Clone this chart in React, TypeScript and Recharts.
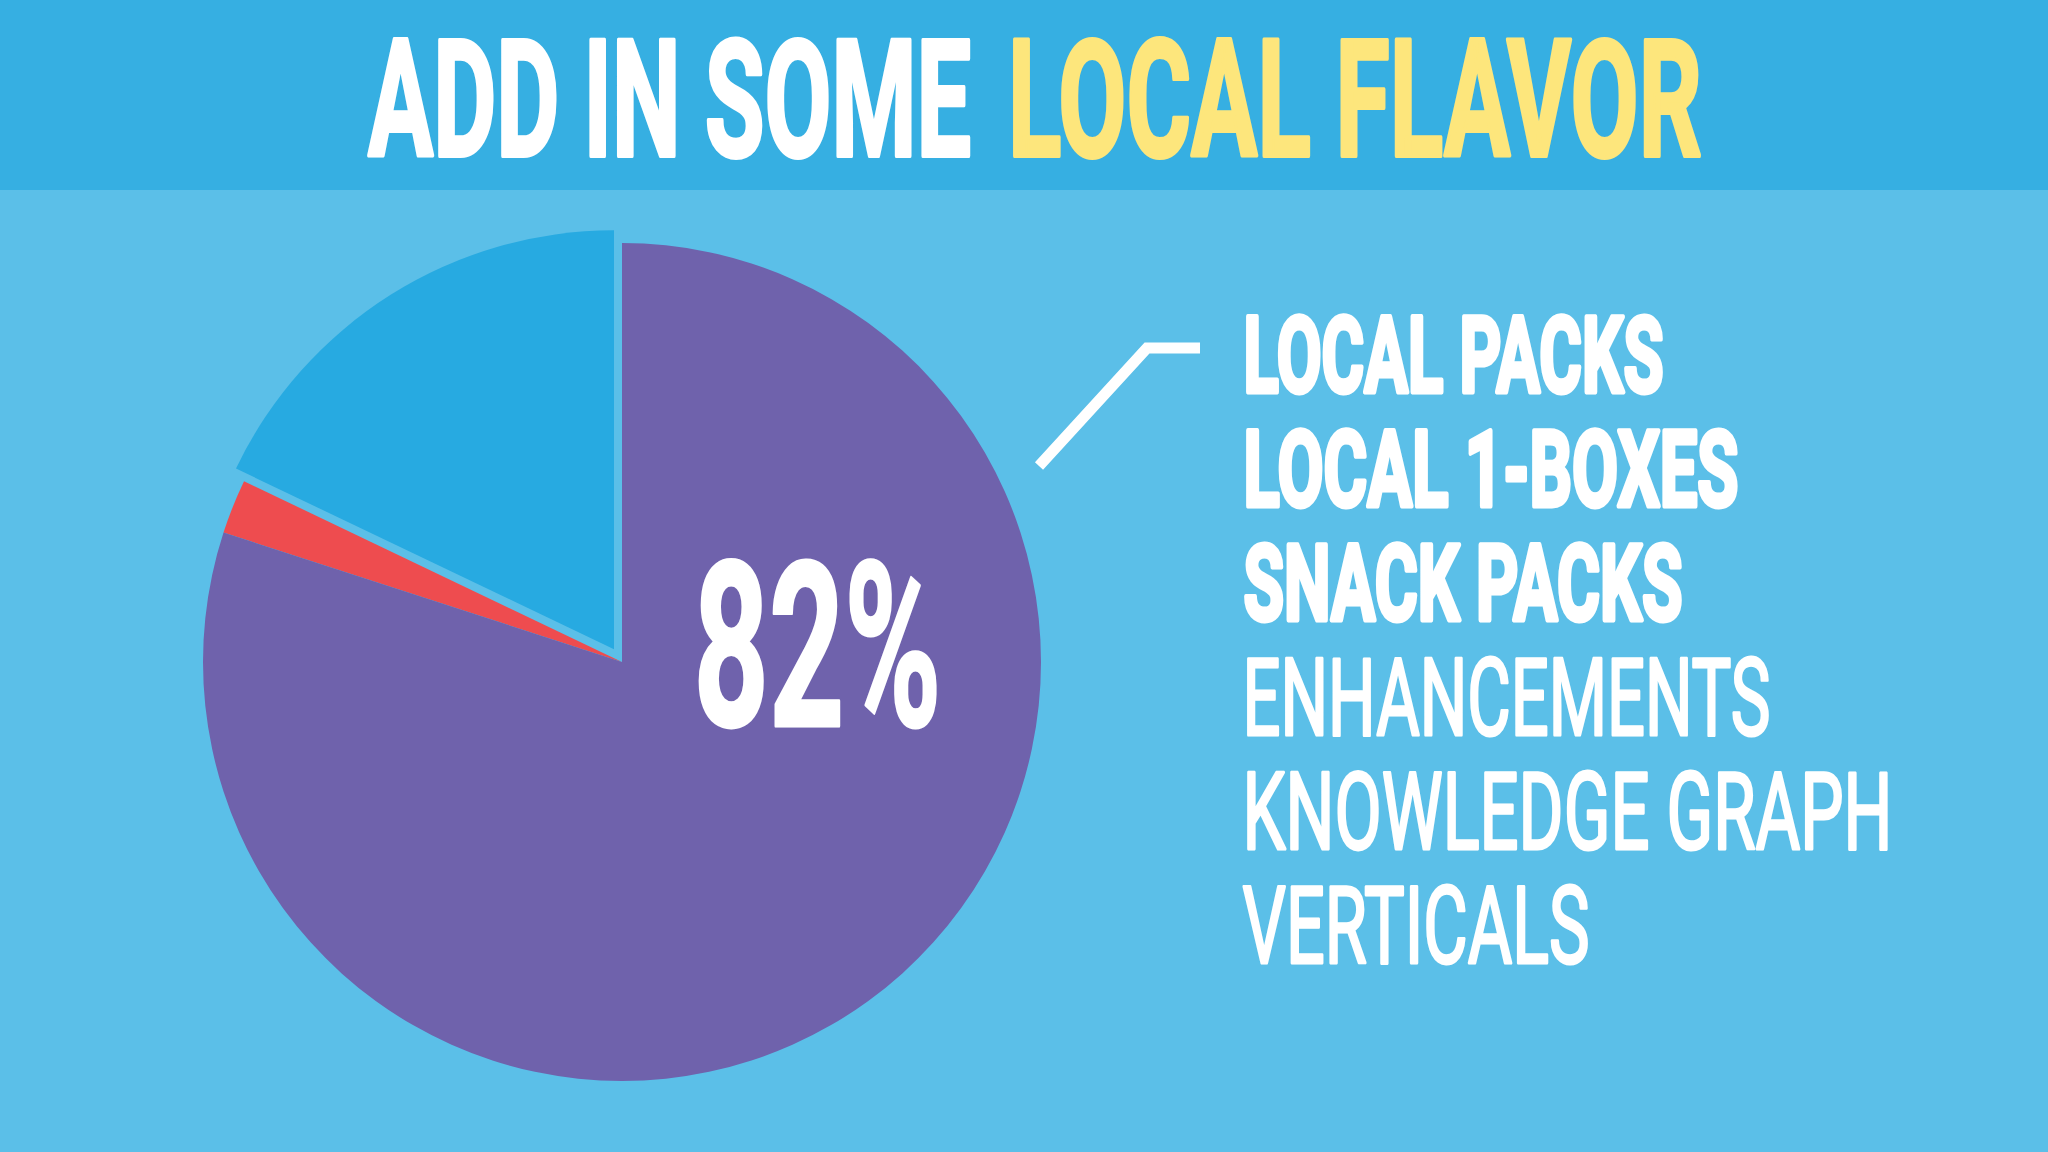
import React, { useLayoutEffect, useRef, useState, useEffect } from 'react';
import { PieChart, Pie, Cell } from 'recharts';

// ---- data ----
const sliceNames = ['Other results', 'Other local', 'Local features'];
const sliceValues = [17.9, 2.1, 80];
const sliceColors = ['#27aae1', '#ee4c4f', '#6f62ac'];
const explodedSlice = 0;

const titleWhite = 'ADD IN SOME';
const titleYellow = 'LOCAL FLAVOR';
const bigLabel = '82%';
const boldItems = ['LOCAL PACKS', 'LOCAL 1-BOXES', 'SNACK PACKS'];
const regularItems = ['ENHANCEMENTS', 'KNOWLEDGE GRAPH', 'VERTICALS'];

// ---- layout ----
const W = 2048;
const H = 1152;
const CX = 622;
const CY = 662;
const R = 419;
const EXPLODE = 15;
const itemWidths = [425, 500, 444, 531, 653, 350];

const data = sliceNames.map((name, i) => ({ name, value: sliceValues[i] }));

const total = sliceValues.reduce((a, b) => a + b, 0);
let acc = 0;
for (let i = 0; i < explodedSlice; i++) acc += sliceValues[i];
const midAngle = 90 + ((acc + sliceValues[explodedSlice] / 2) / total) * 360;
const dx = EXPLODE * Math.cos((midAngle * Math.PI) / 180);
const dy = -EXPLODE * Math.sin((midAngle * Math.PI) / 180);

const FONT = "Roboto, 'Open Sans', sans-serif";

type FitProps = {
  x: number;
  y: number;
  width: number;
  size: number;
  bold?: boolean;
  fill: string;
  thick: number;
  children: string;
};

function FitText({ x, y, width, size, bold, fill, thick, children }: FitProps) {
  const ref = useRef<SVGTextElement>(null);
  const [sx, setSx] = useState(1);
  const measure = () => {
    if (ref.current) {
      const w = ref.current.getComputedTextLength();
      if (w > 0) setSx((width - thick) / w);
    }
  };
  useLayoutEffect(measure, [width, children]);
  useEffect(() => {
    const f = (document as any).fonts;
    if (f && f.ready) f.ready.then(measure);
  }, []);
  return (
    <text
      ref={ref}
      x={0}
      y={0}
      transform={`translate(${x + thick / 2},${y - thick / 2}) scale(${sx},1)`}
      fontFamily={FONT}
      fontWeight={bold ? 700 : 400}
      fontSize={size}
      fill={fill}
      stroke={fill}
      strokeWidth={thick}
      strokeLinejoin="round"
    >
      {children}
    </text>
  );
}

export default function App() {
  const items = [...boldItems, ...regularItems];
  return (
    <div
      style={{
        position: 'absolute',
        left: 0,
        top: 0,
        width: W,
        height: H,
        background: '#5bbfe8',
        overflow: 'hidden',
      }}
    >
      <div
        style={{
          position: 'absolute',
          left: 0,
          top: 0,
          width: W,
          height: 190,
          background: '#36afe2',
        }}
      />
      <div style={{ position: 'absolute', left: 0, top: 0 }}>
        <PieChart width={W} height={H} margin={{ top: 0, right: 0, bottom: 0, left: 0 }}>
          <Pie
            data={data}
            dataKey="value"
            nameKey="name"
            cx={CX}
            cy={CY}
            outerRadius={R}
            innerRadius={0}
            startAngle={90}
            endAngle={450}
            stroke="none"
            isAnimationActive={false}
          >
            {data.map((d, i) => (
              <Cell key={d.name} fill={i === explodedSlice ? 'transparent' : sliceColors[i]} stroke="none" />
            ))}
          </Pie>
          <Pie
            data={data}
            dataKey="value"
            nameKey="name"
            cx={CX + dx}
            cy={CY + dy}
            outerRadius={R}
            innerRadius={0}
            startAngle={90}
            endAngle={450}
            stroke="none"
            isAnimationActive={false}
          >
            {data.map((d, i) => (
              <Cell key={d.name} fill={i === explodedSlice ? sliceColors[i] : 'transparent'} stroke="none" />
            ))}
          </Pie>
        </PieChart>
      </div>
      <svg
        width={W}
        height={H}
        style={{ position: 'absolute', left: 0, top: 0, pointerEvents: 'none' }}
      >
        <FitText x={366} y={158} width={607} size={164} thick={4} bold fill="#ffffff">
          {titleWhite}
        </FitText>
        <FitText x={1006} y={158} width={698} size={164} thick={4} bold fill="#fde67c">
          {titleYellow}
        </FitText>
        <FitText x={692} y={727} width={251} size={231} thick={3} bold fill="#ffffff">
          {bigLabel}
        </FitText>
        <polyline
          points="1039,466 1147,348 1200,348"
          fill="none"
          stroke="#ffffff"
          strokeWidth={11}
        />
        {items.map((t, i) => {
          const bold = i < boldItems.length;
          const thick = bold ? 5 : 3;
          return (
            <FitText
              key={t}
              x={1241}
              y={394 + i * 114}
              width={itemWidths[i]}
              size={(80 - thick) / 0.711}
              thick={thick}
              bold={bold}
              fill="#ffffff"
            >
              {t}
            </FitText>
          );
        })}
      </svg>
    </div>
  );
}
